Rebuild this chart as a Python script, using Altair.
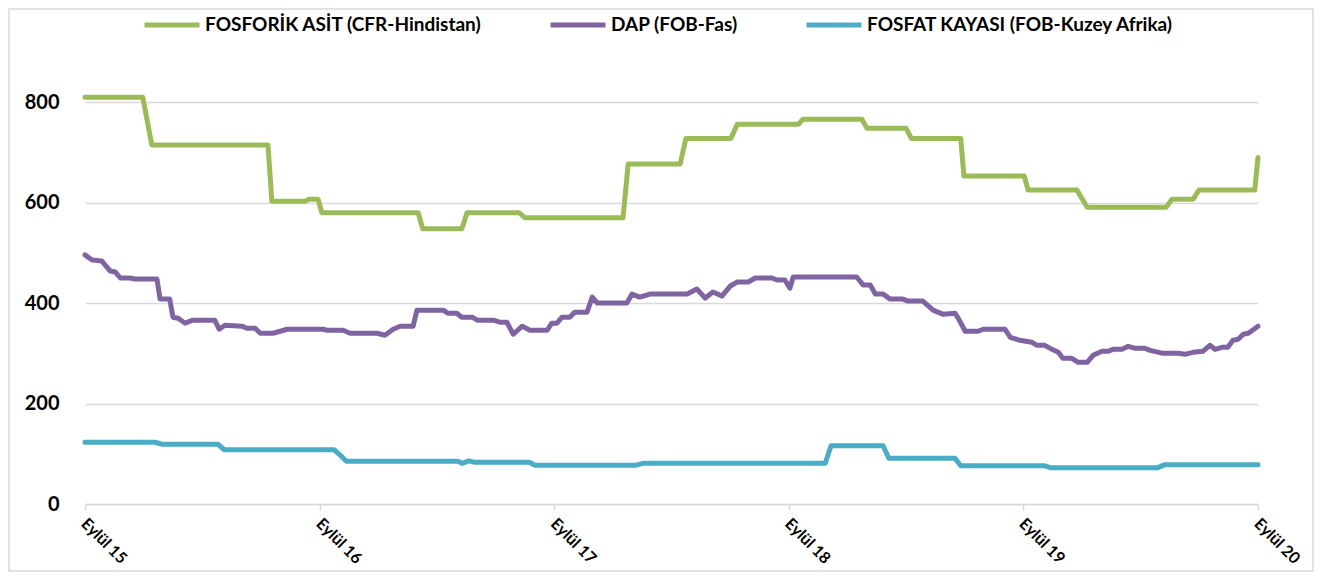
import altair as alt
import pandas as pd

series_names = ["FOSFORİK ASİT (CFR-Hindistan)", "DAP (FOB-Fas)", "FOSFAT KAYASI (FOB-Kuzey Afrika)"]
series_colors = ["#9BBB59", "#8064A2", "#4BACC6"]

fosforik_dates = [
    "2015-09-01", "2015-11-30", "2015-12-14", "2016-06-12", "2016-06-18", "2016-08-09",
    "2016-08-15", "2016-08-29", "2016-09-04", "2017-02-01", "2017-02-08", "2017-04-10",
    "2017-04-18", "2017-07-08", "2017-07-17", "2017-12-17", "2017-12-25", "2018-03-16",
    "2018-03-25", "2018-06-03", "2018-06-13", "2018-09-16", "2018-09-23", "2018-12-24",
    "2019-01-01", "2019-03-03", "2019-03-11", "2019-05-27", "2019-06-01", "2019-09-03",
    "2019-09-09", "2019-11-24", "2019-12-10", "2020-04-11", "2020-04-20", "2020-05-23",
    "2020-06-01", "2020-08-27", "2020-09-01",
]
fosforik_values = [
    810, 810, 715, 715, 603, 603,
    607, 607, 580, 580, 548, 548,
    580, 580, 570, 570, 677, 677,
    728, 728, 756, 756, 766, 766,
    748, 748, 728, 728, 653, 653,
    625, 625, 591, 591, 607, 607,
    625, 625, 690,
]

dap_dates = [
    "2015-09-01", "2015-09-12", "2015-09-27", "2015-10-10", "2015-10-18", "2015-10-26",
    "2015-11-10", "2015-11-18", "2015-12-22", "2015-12-27", "2016-01-11", "2016-01-16",
    "2016-01-24", "2016-02-04", "2016-02-16", "2016-03-21", "2016-03-28", "2016-04-06",
    "2016-05-03", "2016-05-10", "2016-05-23", "2016-05-31", "2016-06-20", "2016-07-12",
    "2016-09-06", "2016-09-12", "2016-10-07", "2016-10-18", "2016-11-29", "2016-12-11",
    "2016-12-24", "2017-01-04", "2017-01-24", "2017-01-30", "2017-03-12", "2017-03-19",
    "2017-04-02", "2017-04-10", "2017-04-26", "2017-05-04", "2017-05-29", "2017-06-08",
    "2017-06-19", "2017-06-29", "2017-07-13", "2017-07-25", "2017-08-21", "2017-08-28",
    "2017-09-05", "2017-09-13", "2017-09-25", "2017-10-03", "2017-10-22", "2017-10-30",
    "2017-11-07", "2017-12-23", "2017-12-31", "2018-01-12", "2018-01-28", "2018-03-27",
    "2018-04-11", "2018-04-24", "2018-05-06", "2018-05-20", "2018-06-02", "2018-06-13",
    "2018-06-30", "2018-07-11", "2018-08-06", "2018-08-14", "2018-08-26", "2018-09-03",
    "2018-09-08", "2018-12-16", "2018-12-26", "2019-01-06", "2019-01-14", "2019-01-26",
    "2019-02-06", "2019-02-26", "2019-03-06", "2019-03-29", "2019-04-14", "2019-04-29",
    "2019-05-18", "2019-05-23", "2019-06-03", "2019-06-23", "2019-07-01", "2019-08-04",
    "2019-08-12", "2019-08-27", "2019-09-15", "2019-09-23", "2019-10-05", "2019-10-16",
    "2019-10-26", "2019-11-02", "2019-11-16", "2019-11-26", "2019-12-10", "2019-12-19",
    "2020-01-02", "2020-01-11", "2020-01-19", "2020-02-02", "2020-02-12", "2020-02-23",
    "2020-03-09", "2020-03-17", "2020-04-06", "2020-04-30", "2020-05-10", "2020-05-23",
    "2020-06-07", "2020-06-18", "2020-06-26", "2020-07-07", "2020-07-16", "2020-07-24",
    "2020-08-01", "2020-08-09", "2020-08-17", "2020-09-01",
]
dap_values = [
    496, 486, 484, 464, 462, 450,
    450, 448, 448, 408, 408, 372,
    370, 360, 366, 366, 348, 356,
    354, 350, 350, 340, 340, 348,
    348, 346, 346, 340, 340, 336,
    348, 354, 354, 386, 386, 380,
    380, 372, 372, 366, 366, 362,
    362, 338, 354, 346, 346, 360,
    360, 372, 372, 382, 382, 412,
    400, 400, 418, 412, 418, 418,
    428, 410, 422, 414, 434, 442,
    442, 450, 450, 446, 446, 430,
    452, 452, 436, 436, 418, 418,
    408, 408, 404, 404, 386, 378,
    380, 370, 344, 344, 348, 348,
    332, 326, 322, 316, 316, 308,
    302, 290, 290, 282, 282, 296,
    304, 304, 308, 308, 314, 310,
    310, 306, 300, 300, 298, 302,
    304, 316, 308, 312, 312, 326,
    328, 338, 340, 354,
]

fosfat_dates = [
    "2015-09-01", "2015-12-19", "2015-12-30", "2016-03-26", "2016-04-05", "2016-09-23",
    "2016-10-02", "2016-10-12", "2017-04-04", "2017-04-10", "2017-04-21", "2017-04-30",
    "2017-07-24", "2017-08-02", "2018-01-05", "2018-01-17", "2018-10-28", "2018-11-06",
    "2019-01-26", "2019-02-04", "2019-05-18", "2019-05-27", "2019-10-05", "2019-10-15",
    "2020-03-28", "2020-04-08", "2020-09-01",
]
fosfat_values = [
    123, 123, 119, 119, 108, 108,
    98, 85, 85, 81, 86, 83,
    83, 77, 77, 81, 81, 116,
    116, 91, 91, 76, 76, 72,
    72, 78, 78,
]

year_ticks = ["2015-09-01", "2016-09-01", "2017-09-01", "2018-09-01", "2019-09-01", "2020-09-01"]
y_ticks = [0, 200, 400, 600, 800]

frames = []
for name, dates, values in [
    (series_names[0], fosforik_dates, fosforik_values),
    (series_names[1], dap_dates, dap_values),
    (series_names[2], fosfat_dates, fosfat_values),
]:
    frames.append(pd.DataFrame({"Tarih": dates, "Fiyat": values, "Seri": name}))
df = pd.concat(frames, ignore_index=True)
df["Tarih"] = pd.to_datetime(df["Tarih"])


def dt(s):
    y, m, d = (int(p) for p in s.split("-"))
    return alt.DateTime(year=y, month=m, date=d, utc=True)


FONT = "Lato"
W, H = 1173, 452

x_enc = alt.X(
    "Tarih:T",
    scale=alt.Scale(type="utc", domain=[dt(year_ticks[0]), dt(year_ticks[-1])], nice=False),
    axis=alt.Axis(
        values=[dt(t) for t in year_ticks],
        labelExpr="'Eylül ' + utcFormat(datum.value, '%y')",
        labelAngle=45,
        labelAlign="left",
        labelBaseline="top",
        labelFont=FONT,
        labelFontWeight="bold",
        labelFontSize=16,
        labelColor="#000000",
        labelPadding=5,
        labelOffset=4,
        labelOverlap=False,
        labelFlush=False,
        domainColor="#d9d9d9",
        domainWidth=1.5,
        tickColor="#d9d9d9",
        tickWidth=1.5,
        tickSize=6,
        grid=False,
        title=None,
    ),
)

y_enc = alt.Y(
    "Fiyat:Q",
    scale=alt.Scale(domain=[0, 900], nice=False),
    axis=alt.Axis(
        values=y_ticks,
        labelFont=FONT,
        labelFontWeight="bold",
        labelFontSize=20,
        labelColor="#000000",
        labelPadding=26,
        ticks=False,
        domain=False,
        grid=True,
        gridColor="#d9d9d9",
        gridWidth=1.5,
        title=None,
    ),
)

lines = alt.Chart(df).mark_line(strokeWidth=5, strokeJoin="round", strokeCap="round").encode(
    x=x_enc,
    y=y_enc,
    color=alt.Color(
        "Seri:N",
        scale=alt.Scale(domain=series_names, range=series_colors),
        sort=series_names,
        legend=alt.Legend(
            title=None,
            orient="none",
            legendX=57,
            legendY=-57,
            direction="horizontal",
            symbolType="stroke",
            symbolSize=3025,
            symbolStrokeWidth=5,
            labelFont=FONT,
            labelFontWeight="bold",
            labelFontSize=19,
            labelLimit=0,
            labelColor="#000000",
            labelOffset=3,
            columnPadding=58,
        ),
    ),
    order=alt.Order("Tarih:T"),
)

frame = alt.Chart(pd.DataFrame({"k": [0]})).mark_rect(
    fill=None, stroke="#d9d9d9", strokeWidth=1.5
).encode(
    x=alt.value(-76), x2=alt.value(W + 55), y=alt.value(-43), y2=alt.value(H + 67)
)

chart = alt.layer(frame, lines).properties(
    width=W,
    height=H,
    autosize=alt.AutoSizeParams(type="none"),
    padding={"left": 77, "top": 44, "right": 56, "bottom": 70},
).configure_view(stroke=None)

chart.save("out.html", embed_options={"renderer": "svg", "actions": False})
